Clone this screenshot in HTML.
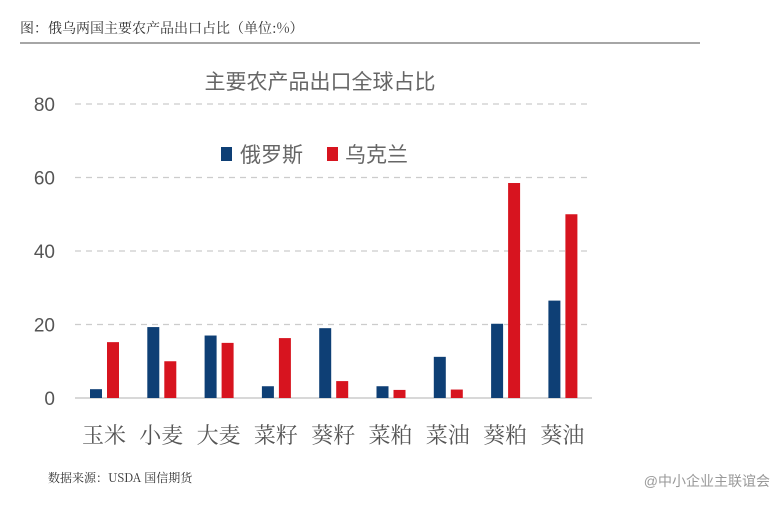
<!DOCTYPE html>
<html><head><meta charset="utf-8"><style>
body{margin:0;background:#fff;width:774px;height:500px;overflow:hidden;font-family:"Liberation Sans","Noto Sans CJK SC",sans-serif;}
</style></head><body>
<svg width="774" height="500" xmlns="http://www.w3.org/2000/svg">
<text x="20" y="33" font-size="14" fill="#333" font-family="'Noto Serif CJK SC',serif">图：俄乌两国主要农产品出口占比（单位:%）</text>
<line x1="20" y1="43" x2="700" y2="43" stroke="#888" stroke-width="1.5"/>
<text x="320" y="89" font-size="21" fill="#666" text-anchor="middle" font-family="'Noto Sans CJK SC',sans-serif">主要农产品出口全球占比</text>
<g id="grid"></g><g id="bars"></g><g id="labels"></g>
<rect x="221" y="147" width="11" height="14" fill="#0e3f75"/>
<text x="240" y="162" font-size="21" fill="#666" font-family="'Noto Sans CJK SC',sans-serif">俄罗斯</text>
<rect x="327" y="147" width="11" height="14" fill="#d7141f"/>
<text x="345" y="162" font-size="21" fill="#666" font-family="'Noto Sans CJK SC',sans-serif">乌克兰</text>
<text x="48" y="482" font-size="12" fill="#333" font-family="'Noto Serif CJK SC',serif">数据来源：USDA  国信期货</text>
<text x="770" y="486" font-size="14" fill="#999" text-anchor="end">@中小企业主联谊会</text>
</svg>
<script>
const categories=["玉米","小麦","大麦","菜籽","葵籽","菜粕","菜油","葵粕","葵油"];
const russia=[2.4,19.3,17,3.2,19,3.2,11.2,20.2,26.5];
const ukraine=[15.2,10,15,16.3,4.6,2.2,2.3,58.5,50];
const ticks=[0,20,40,60,80];
const NS="http://www.w3.org/2000/svg";
const y=v=>398-v*3.675;
const xc=i=>104+i*57.3;
function mk(t,a,p){const e=document.createElementNS(NS,t);for(const k in a)e.setAttribute(k,a[k]);document.getElementById(p).appendChild(e);return e;}
ticks.forEach(t=>{
 const l=mk('line',{x1:75,x2:592,y1:y(t),y2:y(t),stroke:t?'#ccc':'#ccc','stroke-width':t?1.3:1.5,'stroke-dasharray':t?'6,5':'none'},'grid');
 
 
 const tx=mk('text',{x:55,y:y(t)+7,'font-size':19,fill:'#555','text-anchor':'end'},'grid');
 tx.textContent=t;
 
 
});
categories.forEach((c,i)=>{
 const b=mk('rect',{x:xc(i)-14,y:y(russia[i]),width:12,height:398-y(russia[i]),fill:'#0e3f75'},'bars');
 
 
 const r=mk('rect',{x:xc(i)+3,y:y(ukraine[i]),width:12,height:398-y(ukraine[i]),fill:'#d7141f'},'bars');
 
 
 const t=mk('text',{x:xc(i),y:443,'font-size':22,fill:'#555','text-anchor':'middle','font-family':"'Noto Serif CJK SC',serif"},'labels');
 t.textContent=c;
 
 
});
</script>
</body></html>
